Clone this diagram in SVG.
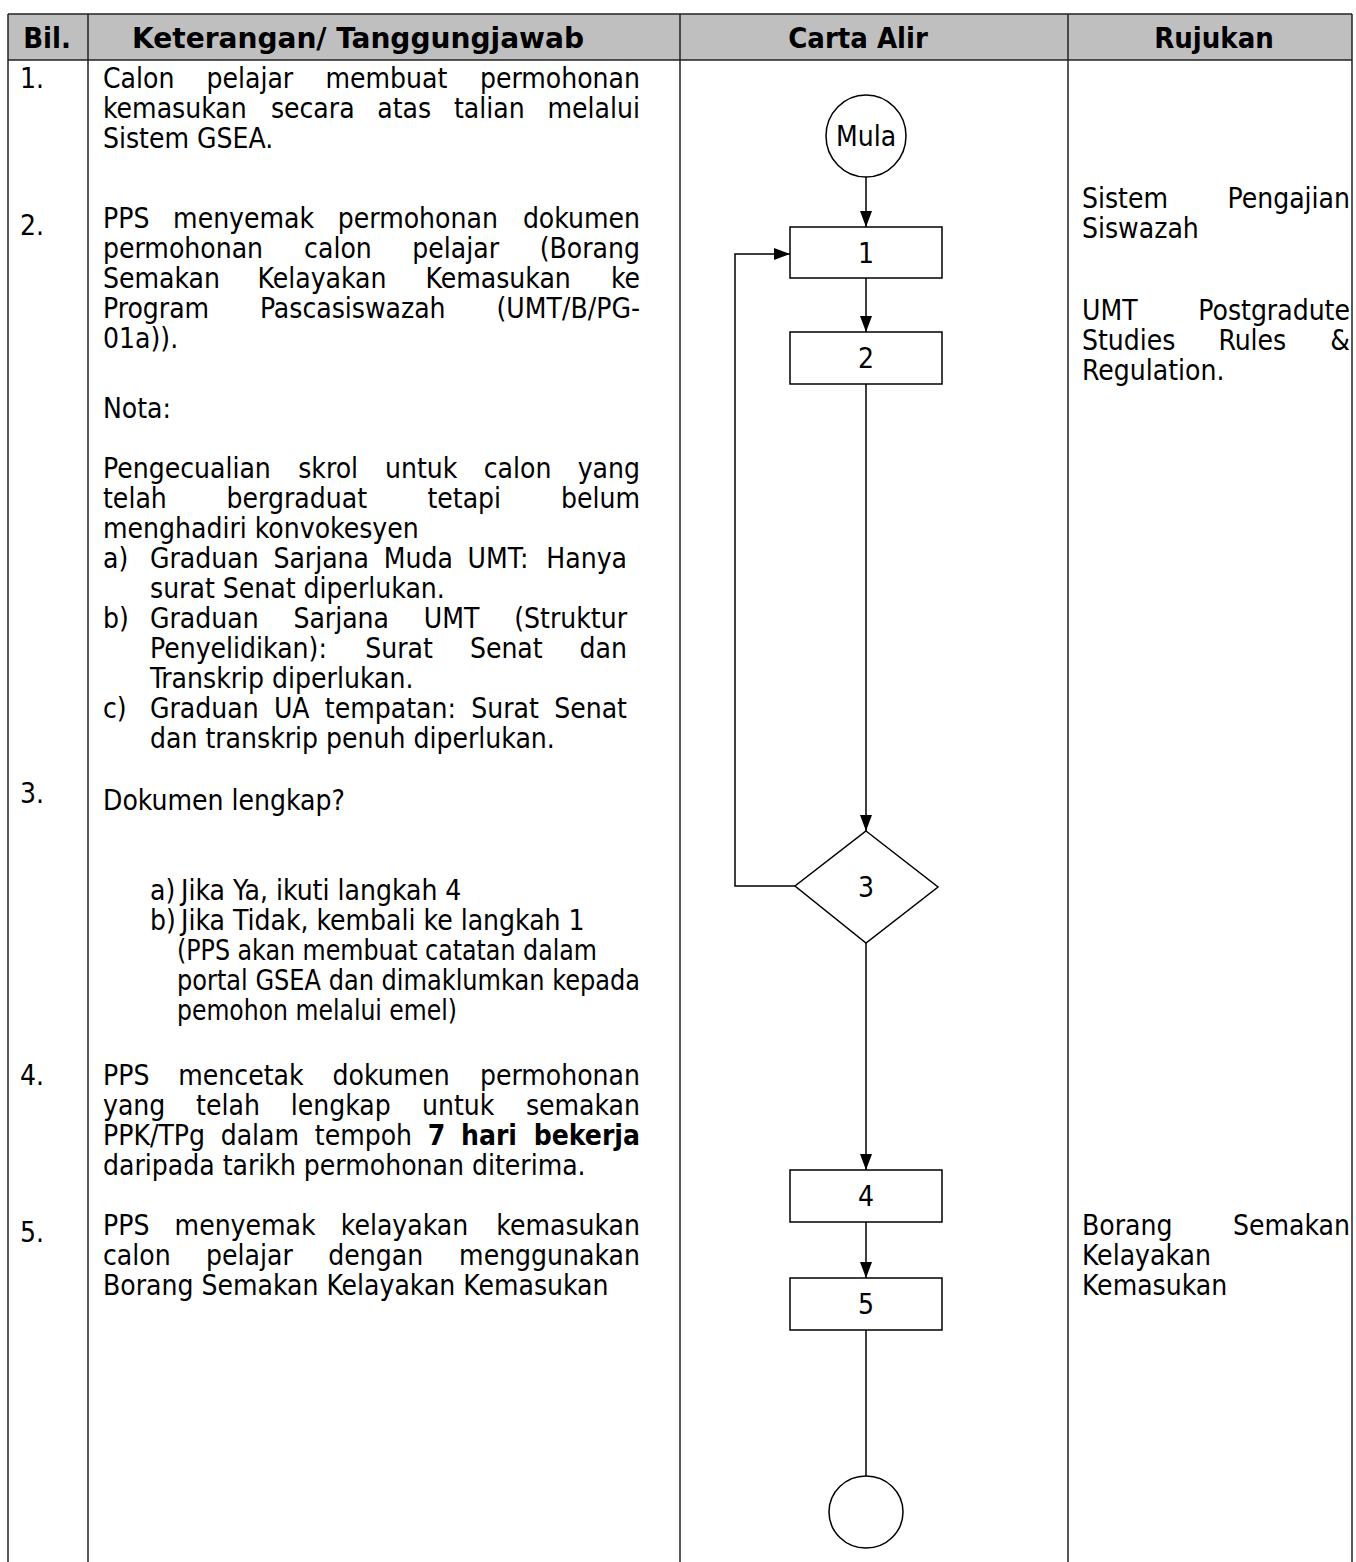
<svg xmlns="http://www.w3.org/2000/svg" width="1356" height="1562" viewBox="0 0 1356 1562">
<style>
.t{font-family:"DejaVu Sans Condensed","DejaVu Sans",sans-serif;font-stretch:condensed;font-size:28px;fill:#000}
.h{font-family:"DejaVu Sans Condensed","DejaVu Sans",sans-serif;font-stretch:condensed;font-size:29px;font-weight:bold;fill:#000;text-anchor:middle}
.e{text-anchor:end}
.m{text-anchor:middle}
.b{font-weight:bold}
.grid{stroke:#222;stroke-width:1.5;fill:none}
.shape{fill:#fff;stroke:#000;stroke-width:1.5}
.conn{fill:none;stroke:#000;stroke-width:1.5}
</style>
<defs>
<marker id="arr" viewBox="0 0 16 12" refX="16" refY="6" markerWidth="16" markerHeight="12" orient="auto" markerUnits="userSpaceOnUse">
<path d="M0,0 L16,6 L0,12 z" fill="#000"/>
</marker>
</defs>
<rect width="1356" height="1562" fill="#fff"/>
<g id="table">
<rect x="8" y="14" width="1344" height="46" fill="#bfbfbf"/>
<line class="grid" x1="8" y1="14" x2="1352" y2="14" stroke-width="2"/>
<line class="grid" x1="8" y1="60" x2="1352" y2="60" stroke-width="2"/>
<line class="grid" x1="8" y1="14" x2="8" y2="1562"/>
<line class="grid" x1="88" y1="14" x2="88" y2="1562"/>
<line class="grid" x1="680" y1="14" x2="680" y2="1562"/>
<line class="grid" x1="1068" y1="14" x2="1068" y2="1562"/>
<line class="grid" x1="1352" y1="14" x2="1352" y2="1562"/>
<text class="h" x="47" y="48">Bil.</text>
<text class="h" x="358" y="48" textLength="452" lengthAdjust="spacingAndGlyphs">Keterangan/ Tanggungjawab</text>
<text class="h" x="858" y="48">Carta Alir</text>
<text class="h" x="1214" y="48">Rujukan</text>
</g>
<g id="bil">
<text class="t" x="20" y="88">1.</text>
<text class="t" x="20" y="235">2.</text>
<text class="t" x="20" y="803">3.</text>
<text class="t" x="20" y="1085">4.</text>
<text class="t" x="20" y="1242">5.</text>
</g>
<g id="keterangan">
<text class="t" x="103" y="88">Calon</text><text class="t" x="206.5" y="88">pelajar</text><text class="t" x="325.4" y="88">membuat</text><text class="t e" x="640" y="88">permohonan</text>
<text class="t" x="103" y="118">kemasukan</text><text class="t" x="270.9" y="118">secara</text><text class="t" x="377.3" y="118">atas</text><text class="t" x="453.9" y="118">talian</text><text class="t e" x="640" y="118">melalui</text>
<text class="t" x="103" y="148">Sistem GSEA.</text>

<text class="t" x="103" y="228">PPS</text><text class="t" x="173.1" y="228">menyemak</text><text class="t" x="337.8" y="228">permohonan</text><text class="t e" x="640" y="228">dokumen</text>
<text class="t" x="103" y="258">permohonan</text><text class="t" x="304.1" y="258">calon</text><text class="t" x="412.3" y="258">pelajar</text><text class="t e" x="640" y="258">(Borang</text>
<text class="t" x="103" y="288">Semakan</text><text class="t" x="257.6" y="288">Kelayakan</text><text class="t" x="425.6" y="288">Kemasukan</text><text class="t e" x="640" y="288">ke</text>
<text class="t" x="103" y="318">Program</text><text class="t" x="259.9" y="318">Pascasiswazah</text><text class="t e" x="640" y="318">(UMT/B/PG-</text>
<text class="t" x="103" y="348">01a)).</text>
<text class="t" x="103" y="418">Nota:</text>
<text class="t" x="103" y="478">Pengecualian</text><text class="t" x="298.2" y="478">skrol</text><text class="t" x="385" y="478">untuk</text><text class="t" x="483.7" y="478">calon</text><text class="t e" x="640" y="478">yang</text>
<text class="t" x="103" y="508">telah</text><text class="t" x="226.6" y="508">bergraduat</text><text class="t" x="427.4" y="508">tetapi</text><text class="t e" x="640" y="508">belum</text>
<text class="t" x="103" y="538">menghadiri konvokesyen</text>
<text class="t" x="103" y="568">a)</text><text class="t" x="150" y="568">Graduan</text><text class="t" x="273.4" y="568">Sarjana</text><text class="t" x="383.7" y="568">Muda</text><text class="t" x="467.6" y="568">UMT:</text><text class="t e" x="627" y="568">Hanya</text>
<text class="t" x="150" y="598">surat Senat diperlukan.</text>
<text class="t" x="103" y="628">b)</text><text class="t" x="150" y="628">Graduan</text><text class="t" x="293.4" y="628">Sarjana</text><text class="t" x="423.8" y="628">UMT</text><text class="t e" x="627" y="628">(Struktur</text>
<text class="t" x="150" y="658">Penyelidikan):</text><text class="t" x="365.3" y="658">Surat</text><text class="t" x="469.9" y="658">Senat</text><text class="t e" x="627" y="658">dan</text>
<text class="t" x="150" y="688">Transkrip diperlukan.</text>
<text class="t" x="103" y="718">c)</text><text class="t" x="150" y="718">Graduan</text><text class="t" x="273.9" y="718">UA</text><text class="t" x="324.8" y="718">tempatan:</text><text class="t" x="471.2" y="718">Surat</text><text class="t e" x="627" y="718">Senat</text>
<text class="t" x="150" y="748">dan transkrip penuh diperlukan.</text>

<text class="t" x="103" y="810">Dokumen lengkap?</text>
<text class="t" x="150" y="900">a)</text><text class="t" x="181" y="900">Jika Ya, ikuti langkah 4</text>
<text class="t" x="150" y="930">b)</text><text class="t" x="181" y="930">Jika Tidak, kembali ke langkah 1</text>
<text class="t" x="177" y="960" textLength="420" lengthAdjust="spacingAndGlyphs">(PPS akan membuat catatan dalam</text>
<text class="t" x="177" y="990" textLength="463" lengthAdjust="spacingAndGlyphs">portal GSEA dan dimaklumkan kepada</text>
<text class="t" x="177" y="1020" textLength="280" lengthAdjust="spacingAndGlyphs">pemohon melalui emel)</text>

<text class="t" x="103" y="1085">PPS</text><text class="t" x="178.3" y="1085">mencetak</text><text class="t" x="332.5" y="1085">dokumen</text><text class="t e" x="640" y="1085">permohonan</text>
<text class="t" x="103" y="1115">yang</text><text class="t" x="196.1" y="1115">telah</text><text class="t" x="290.7" y="1115">lengkap</text><text class="t" x="422" y="1115">untuk</text><text class="t e" x="640" y="1115">semakan</text>
<text class="t" x="103" y="1145">PPK/TPg</text><text class="t" x="220.7" y="1145">dalam</text><text class="t" x="314.8" y="1145">tempoh</text><text class="t b" x="427.8" y="1145">7</text><text class="t b" x="461" y="1145">hari</text><text class="t b e" x="640" y="1145">bekerja</text>
<text class="t" x="103" y="1175">daripada tarikh permohonan diterima.</text>

<text class="t" x="103" y="1235">PPS</text><text class="t" x="174.6" y="1235">menyemak</text><text class="t" x="340.8" y="1235">kelayakan</text><text class="t e" x="640" y="1235">kemasukan</text>
<text class="t" x="103" y="1265">calon</text><text class="t" x="206.1" y="1265">pelajar</text><text class="t" x="328.3" y="1265">dengan</text><text class="t e" x="640" y="1265">menggunakan</text>
<text class="t" x="103" y="1295">Borang Semakan Kelayakan Kemasukan</text>
</g>
<g id="rujukan">
<text class="t" x="1082" y="208">Sistem</text><text class="t e" x="1350" y="208">Pengajian</text>
<text class="t" x="1082" y="238">Siswazah</text>
<text class="t" x="1082" y="320">UMT</text><text class="t e" x="1350" y="320">Postgradute</text>
<text class="t" x="1082" y="350">Studies</text><text class="t" x="1218.4" y="350">Rules</text><text class="t e" x="1350" y="350">&amp;</text>
<text class="t" x="1082" y="380">Regulation.</text>
<text class="t" x="1082" y="1235">Borang</text><text class="t e" x="1350" y="1235">Semakan</text>
<text class="t" x="1082" y="1265">Kelayakan</text>
<text class="t" x="1082" y="1295">Kemasukan</text>
</g>
<g id="connectors">
<line class="conn" x1="866" y1="177" x2="866" y2="227" marker-end="url(#arr)"/>
<line class="conn" x1="866" y1="278" x2="866" y2="332" marker-end="url(#arr)"/>
<line class="conn" x1="866" y1="384" x2="866" y2="831" marker-end="url(#arr)"/>
<polyline class="conn" points="795,886 735,886 735,254 790,254" marker-end="url(#arr)"/>
<line class="conn" x1="866" y1="943" x2="866" y2="1170" marker-end="url(#arr)"/>
<line class="conn" x1="866" y1="1222" x2="866" y2="1278" marker-end="url(#arr)"/>
<line class="conn" x1="866" y1="1330" x2="866" y2="1476"/>
</g>
<g id="mula">
<ellipse class="shape" cx="866" cy="136" rx="40" ry="41"/>
<text class="t m" x="866" y="146">Mula</text>
</g>
<g id="step1">
<rect class="shape" x="790" y="227" width="152" height="51"/>
<text class="t m" x="866" y="263">1</text>
</g>
<g id="step2">
<rect class="shape" x="790" y="332" width="152" height="52"/>
<text class="t m" x="866" y="368">2</text>
</g>
<g id="step3">
<polygon class="shape" points="866,831 938,887 866,943 795,886"/>
<text class="t m" x="866" y="897">3</text>
</g>
<g id="step4">
<rect class="shape" x="790" y="1170" width="152" height="52"/>
<text class="t m" x="866" y="1206">4</text>
</g>
<g id="step5">
<rect class="shape" x="790" y="1278" width="152" height="52"/>
<text class="t m" x="866" y="1314">5</text>
</g>
<g id="end">
<ellipse class="shape" cx="866" cy="1512" rx="37" ry="36"/>
</g>
</svg>
